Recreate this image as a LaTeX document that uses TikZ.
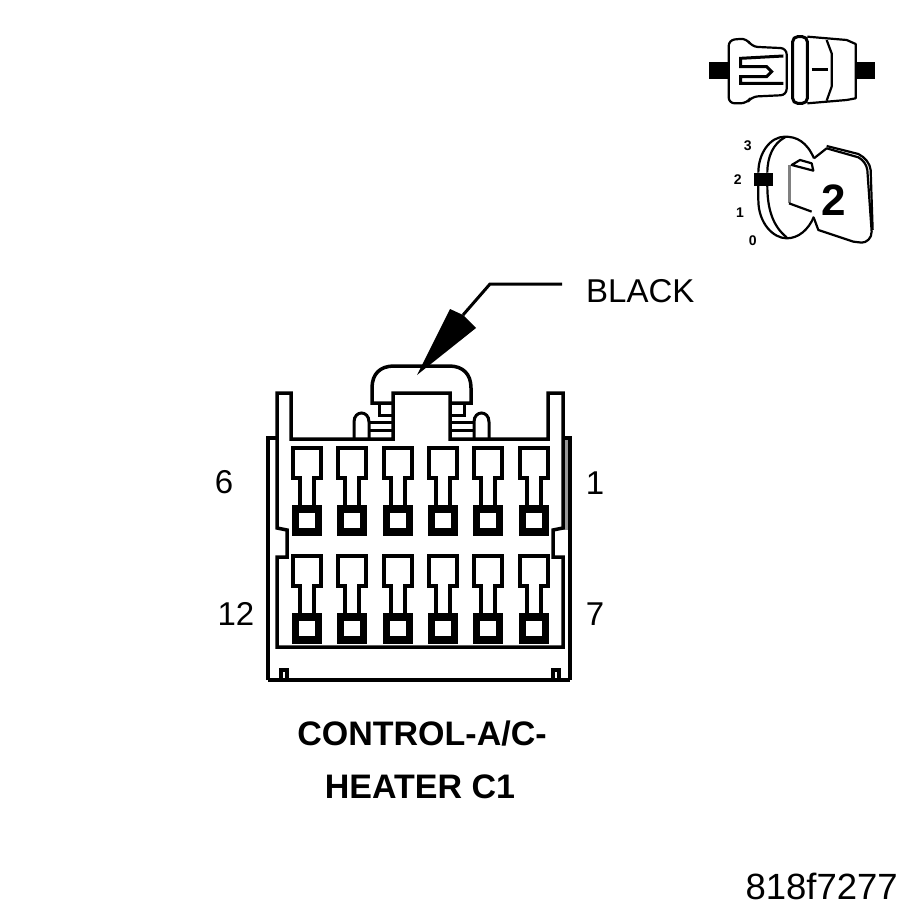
\documentclass[tikz,border=0pt]{standalone}
\usepackage{fontspec}
\setmainfont{Liberation Sans}
\newcommand{\labelsize}{\fontsize{33}{36}\selectfont}
\tikzset{
    shell/.style={line width=3.5pt, line join=miter},
    iconline/.style={line width=2.2pt, line join=round},
    pinlabel/.style={inner sep=0pt, font=\labelsize},
    titlelabel/.style={inner sep=0pt, font=\fontsize{34}{36}\selectfont\bfseries},
    ticklabel/.style={inner sep=0pt, font=\fontsize{14}{16}\selectfont\bfseries},
}
\begin{document}
\begin{tikzpicture}[x=1pt,y=-1pt]
    \useasboundingbox (0,0) rectangle (917,917);

    % Connector shell
    \fill[black!40] (563,440) rectangle (570,530);
    \draw[shell] (268,680) -- (268,438) -- (277,438);
    \draw[shell] (570,680) -- (570,438) -- (563,438);
    \draw[shell] (268,680) -- (570,680);
    \draw[shell] (277,647) -- (277,557) -- (287,557) -- (287,530) -- (277,528) -- (277,393)
        -- (291,393) -- (291,439) -- (393,439) -- (393,393) -- (450,393) -- (450,439)
        -- (548,439) -- (548,393) -- (563,393) -- (563,528) -- (553,530) -- (553,557)
        -- (563,557) -- (563,647) -- cycle;
    \draw[shell] (281,680) -- (281,670) -- (287,670) -- (287,680);
    \draw[shell] (553,680) -- (553,670) -- (559,670) -- (559,680);

    % Latch on top
    \draw[shell] (393,403) -- (372,403) -- (372,388) .. controls (372,374) and (380,366) .. (394,366)
        -- (449,366) .. controls (463,366) and (471,374) .. (471,388) -- (471,403) -- (450,403);
    \draw[line width=3pt] (379,404) -- (379,415) -- (393,415);
    \draw[line width=3pt] (464,404) -- (464,415) -- (450,415);
    \draw[line width=3pt] (370,422) -- (393,422) (370,430) -- (393,430);
    \draw[line width=3pt] (450,422) -- (473,422) (450,430) -- (473,430);
    \draw[line width=3pt] (354,439) -- (354,422) .. controls (354,410) and (369,410) .. (369,422) -- (369,439);
    \draw[line width=3pt] (474,439) -- (474,422) .. controls (474,410) and (489,410) .. (489,422) -- (489,439);

    % Terminals, two rows of six
    \foreach \py in {448,556} {
        \foreach \px in {307,352,398,443,488,534} {
            \begin{scope}[shift={(\px,\py)}]
                \draw[line width=3.5pt] (-7,57) -- (-7,30) -- (-14,30) -- (-14,0)
                    -- (14,0) -- (14,30) -- (7,30) -- (7,57);
                \draw[line width=7.5pt] (-11.5,61) rectangle (11.5,84);
            \end{scope}
        }
    }

    % Pin numbers
    \node[pinlabel] (pinsix) at (224,482) {6};
    \node[pinlabel] (pinone) at (595,483) {1};
    \node[pinlabel] (pintwelve) at (236,614) {12};
    \node[pinlabel] (pinseven) at (595,614) {7};

    % Colour callout
    \node[pinlabel, anchor=west] (colorlabel) at (586,291) {BLACK};
    \coordinate (leaderstart) at (562,284);
    \coordinate (leaderbend) at (490,284);
    \coordinate (arrowneck) at (463,315);
    \draw[line width=3pt] (leaderstart) -- (leaderbend) -- (arrowneck);
    \fill (417,375) -- (450,309) -- (463,315) -- (476,328) -- cycle;

    % Connector name and figure code
    \node[titlelabel] (nameone) at (422,734) {CONTROL-A/C-};
    \node[titlelabel] (nametwo) at (420,787) {HEATER C1};
    \node[inner sep=0pt, font=\fontsize{36.5}{38}\selectfont, anchor=east] (figcode) at (898,886) {818f7277};

    % Icon: plug and socket
    \begin{scope}[xshift=690pt,yshift=-20pt,x=0.3333pt,y=-0.3333pt]
        \fill (58,125) rectangle (118,178);
        \fill (497,125) rectangle (555,178);
        \draw[iconline, rounded corners=6pt] (116,60) -- (170,55) -- (185,80) -- (290,85)
            -- (290,225) -- (185,230) -- (170,250) -- (116,250) -- cycle;
        \draw[line width=3pt] (280,108) -- (152,115) -- (152,140) -- (230,140) -- (245,155)
            -- (230,170) -- (152,170) -- (152,190) -- (280,190);
        \draw[line width=3pt, rounded corners=5pt] (308,50) rectangle (352,250);
        \draw[iconline] (352,50) -- (470,60) -- (497,72) -- (497,235) -- (470,240) -- (352,250);
        \draw[iconline] (410,60) -- (425,100) -- (425,200) -- (410,242);
        \draw[line width=3pt] (365,150) -- (415,150);

        % Icon: key in lock
        \draw[iconline] (372,415) .. controls (350,365) and (320,350) .. (285,350)
            .. controls (240,350) and (205,400) .. (205,458);
        \draw[iconline] (205,498) -- (205,540) .. controls (205,610) and (250,655) .. (290,655)
            .. controls (325,655) and (355,630) .. (372,590);
        \draw[iconline] (285,352) .. controls (250,370) and (232,410) .. (232,458);
        \draw[iconline] (232,498) .. controls (232,570) and (250,620) .. (290,652);
        \fill (192,458) rectangle (248,498);
        \draw[line width=3pt, black!50] (297,435) -- (297,550);
        \draw[iconline] (297,550) -- (365,575);
        \draw[iconline] (305,435) -- (330,420) -- (365,430) -- (370,452) -- cycle;
        \draw[iconline] (372,415) -- (410,385) -- (505,412) .. controls (520,420) and (530,435) .. (532,450)
            -- (545,635) .. controls (545,655) and (530,668) .. (515,668) -- (490,665) -- (385,630) -- (372,595);
        \draw[iconline] (410,378) -- (505,402) .. controls (525,412) and (540,430) .. (542,450) -- (548,630);
        \node[inner sep=0pt, font=\fontsize{44}{46}\selectfont\bfseries] (keynum) at (430,541) {2};
        \node[ticklabel] (tickthree) at (173,376) {3};
        \node[ticklabel] (ticktwo) at (143,480) {2};
        \node[ticklabel] (tickone) at (150,578) {1};
        \node[ticklabel] (tickzero) at (188,662) {0};
    \end{scope}
\end{tikzpicture}
\end{document}
